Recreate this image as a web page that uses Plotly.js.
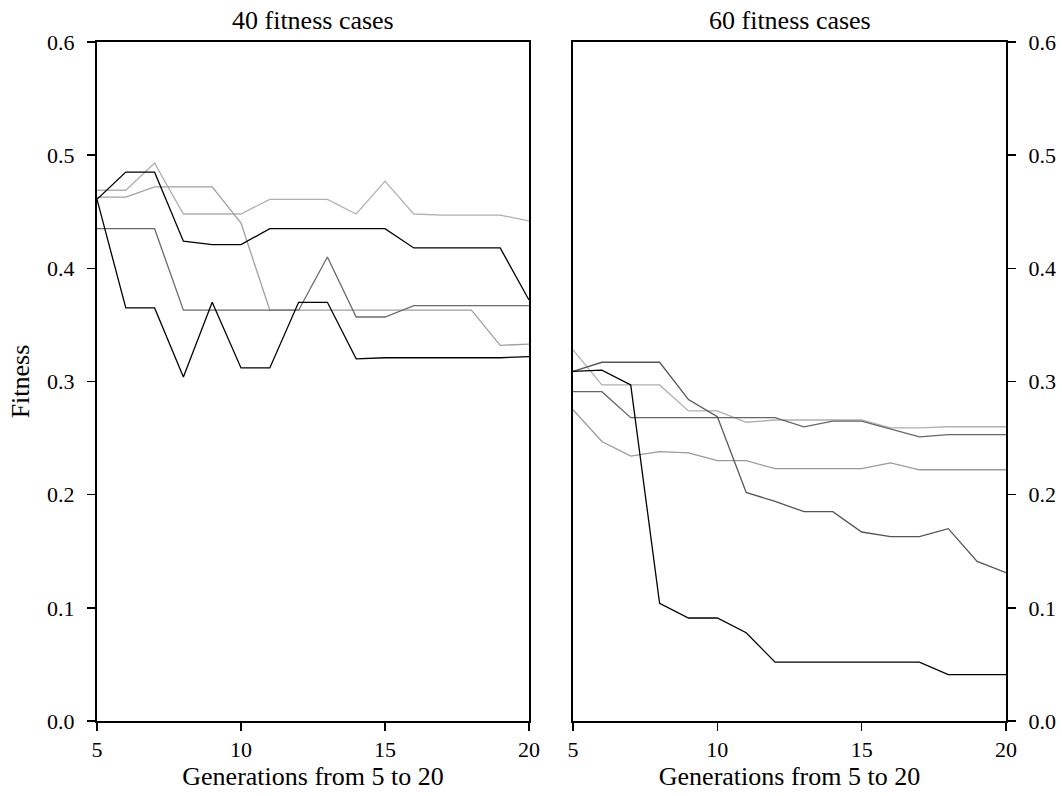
<!DOCTYPE html>
<html>
<head>
<meta charset="utf-8">
<script src="https://cdn.plot.ly/plotly-3.0.1.min.js"></script>
<style>html,body{margin:0;padding:0;background:#fff;}#chart{width:1062px;height:796px;}</style>
</head>
<body>
<div id="chart"></div>
<script>
// Generations
var generations = [5, 6, 7, 8, 9, 10, 11, 12, 13, 14, 15, 16, 17, 18, 19, 20];

// 40 fitness cases
var cases40_run1 = [0.461, 0.485, 0.485, 0.424, 0.421, 0.421, 0.435, 0.435, 0.435, 0.435, 0.435, 0.418, 0.418, 0.418, 0.418, 0.372];
var cases40_run2 = [0.461, 0.365, 0.365, 0.304, 0.370, 0.312, 0.312, 0.370, 0.370, 0.320, 0.321, 0.321, 0.321, 0.321, 0.321, 0.322];
var cases40_run3 = [0.435, 0.435, 0.435, 0.363, 0.363, 0.363, 0.363, 0.363, 0.410, 0.357, 0.357, 0.367, 0.367, 0.367, 0.367, 0.367];
var cases40_run4 = [0.469, 0.469, 0.493, 0.448, 0.448, 0.448, 0.461, 0.461, 0.461, 0.448, 0.477, 0.448, 0.447, 0.447, 0.447, 0.442];
var cases40_run5 = [0.463, 0.463, 0.472, 0.472, 0.472, 0.440, 0.363, 0.363, 0.363, 0.363, 0.363, 0.363, 0.363, 0.363, 0.332, 0.333];

// 60 fitness cases
var cases60_run1 = [0.309, 0.310, 0.297, 0.104, 0.091, 0.091, 0.078, 0.052, 0.052, 0.052, 0.052, 0.052, 0.052, 0.041, 0.041, 0.041];
var cases60_run2 = [0.309, 0.317, 0.317, 0.317, 0.284, 0.269, 0.202, 0.194, 0.185, 0.185, 0.167, 0.163, 0.163, 0.170, 0.141, 0.131];
var cases60_run3 = [0.291, 0.291, 0.268, 0.268, 0.268, 0.268, 0.268, 0.268, 0.260, 0.265, 0.265, 0.258, 0.251, 0.253, 0.253, 0.253];
var cases60_run4 = [0.328, 0.297, 0.297, 0.297, 0.274, 0.274, 0.264, 0.266, 0.266, 0.266, 0.266, 0.259, 0.259, 0.260, 0.260, 0.260];
var cases60_run5 = [0.275, 0.247, 0.234, 0.238, 0.237, 0.230, 0.230, 0.223, 0.223, 0.223, 0.223, 0.228, 0.222, 0.222, 0.222, 0.222];

var panelTitles = ["40 fitness cases", "60 fitness cases"];
var xTickVals = [5, 10, 15, 20];
var yTickVals = [0.0, 0.1, 0.2, 0.3, 0.4, 0.5, 0.6];
var yTickText = ["0.0", "0.1", "0.2", "0.3", "0.4", "0.5", "0.6"];

var leftSeries = [cases40_run4, cases40_run5, cases40_run3, cases40_run1, cases40_run2];
var leftColors = ["#b0b0b0", "#a0a0a0", "#6a6a6a", "#000000", "#000000"];
var rightSeries = [cases60_run4, cases60_run5, cases60_run3, cases60_run2, cases60_run1];
var rightColors = ["#b0b0b0", "#9a9a9a", "#666666", "#555555", "#000000"];

var traces = [];
leftSeries.forEach(function (ys, i) {
  traces.push({x: generations, y: ys, type: "scatter", mode: "lines", xaxis: "x", yaxis: "y",
    line: {color: leftColors[i], width: 1.3}, showlegend: false, hoverinfo: "skip"});
});
rightSeries.forEach(function (ys, i) {
  traces.push({x: generations, y: ys, type: "scatter", mode: "lines", xaxis: "x2", yaxis: "y2",
    line: {color: rightColors[i], width: 1.3}, showlegend: false, hoverinfo: "skip"});
});

var FONT = "Liberation Serif, Times New Roman, serif";
var tickFont = {family: FONT, size: 22, color: "#000"};
var labFont = {family: FONT, size: 26, color: "#000"};

function xAxis(anchor, domain) {
  return {domain: domain, anchor: anchor, range: [5, 20], tickvals: xTickVals, ticktext: xTickVals.map(String),
    ticks: "outside", ticklen: 8, tickwidth: 1.5, tickcolor: "#000", showline: true, linecolor: "#000", linewidth: 2,
    mirror: true, showgrid: false, zeroline: false, tickfont: tickFont, ticklabelstandoff: 0,
    title: {text: "Generations from 5 to 20", font: labFont, standoff: 4}};
}
function yAxis(anchor, side, withTitle) {
  var a = {domain: [0, 1], anchor: anchor, side: side, range: [0, 0.6], tickvals: yTickVals, ticktext: yTickText,
    ticks: "outside", ticklen: 8, tickwidth: 1.5, tickcolor: "#000", showline: true, linecolor: "#000", linewidth: 2,
    mirror: true, showgrid: false, zeroline: false, tickfont: tickFont, ticklabelstandoff: 8};
  if (withTitle) a.title = {text: "Fitness", font: labFont, standoff: 10};
  return a;
}

var W = 1062, L = 97, R = 1006;
var plotW = R - L;
var d1 = [0, (529 - L) / plotW];
var d2 = [(573 - L) / plotW, 1];

var layout = {
  width: W, height: 796,
  margin: {l: L, r: W - R, t: 42, b: 75, pad: 0},
  paper_bgcolor: "#fff", plot_bgcolor: "#fff",
  font: {family: FONT, color: "#000"},
  xaxis: xAxis("y", d1),
  yaxis: yAxis("x", "left", true),
  xaxis2: xAxis("y2", d2),
  yaxis2: yAxis("x2", "right", false),
  annotations: [
    {text: panelTitles[0], xref: "paper", yref: "paper", x: (d1[0] + d1[1]) / 2, y: 1, xanchor: "center", yanchor: "bottom", yshift: 5, showarrow: false, font: labFont},
    {text: panelTitles[1], xref: "paper", yref: "paper", x: (d2[0] + d2[1]) / 2, y: 1, xanchor: "center", yanchor: "bottom", yshift: 5, showarrow: false, font: labFont}
  ]
};

Plotly.newPlot("chart", traces, layout, {displayModeBar: false, staticPlot: true});
</script>
</body>
</html>
